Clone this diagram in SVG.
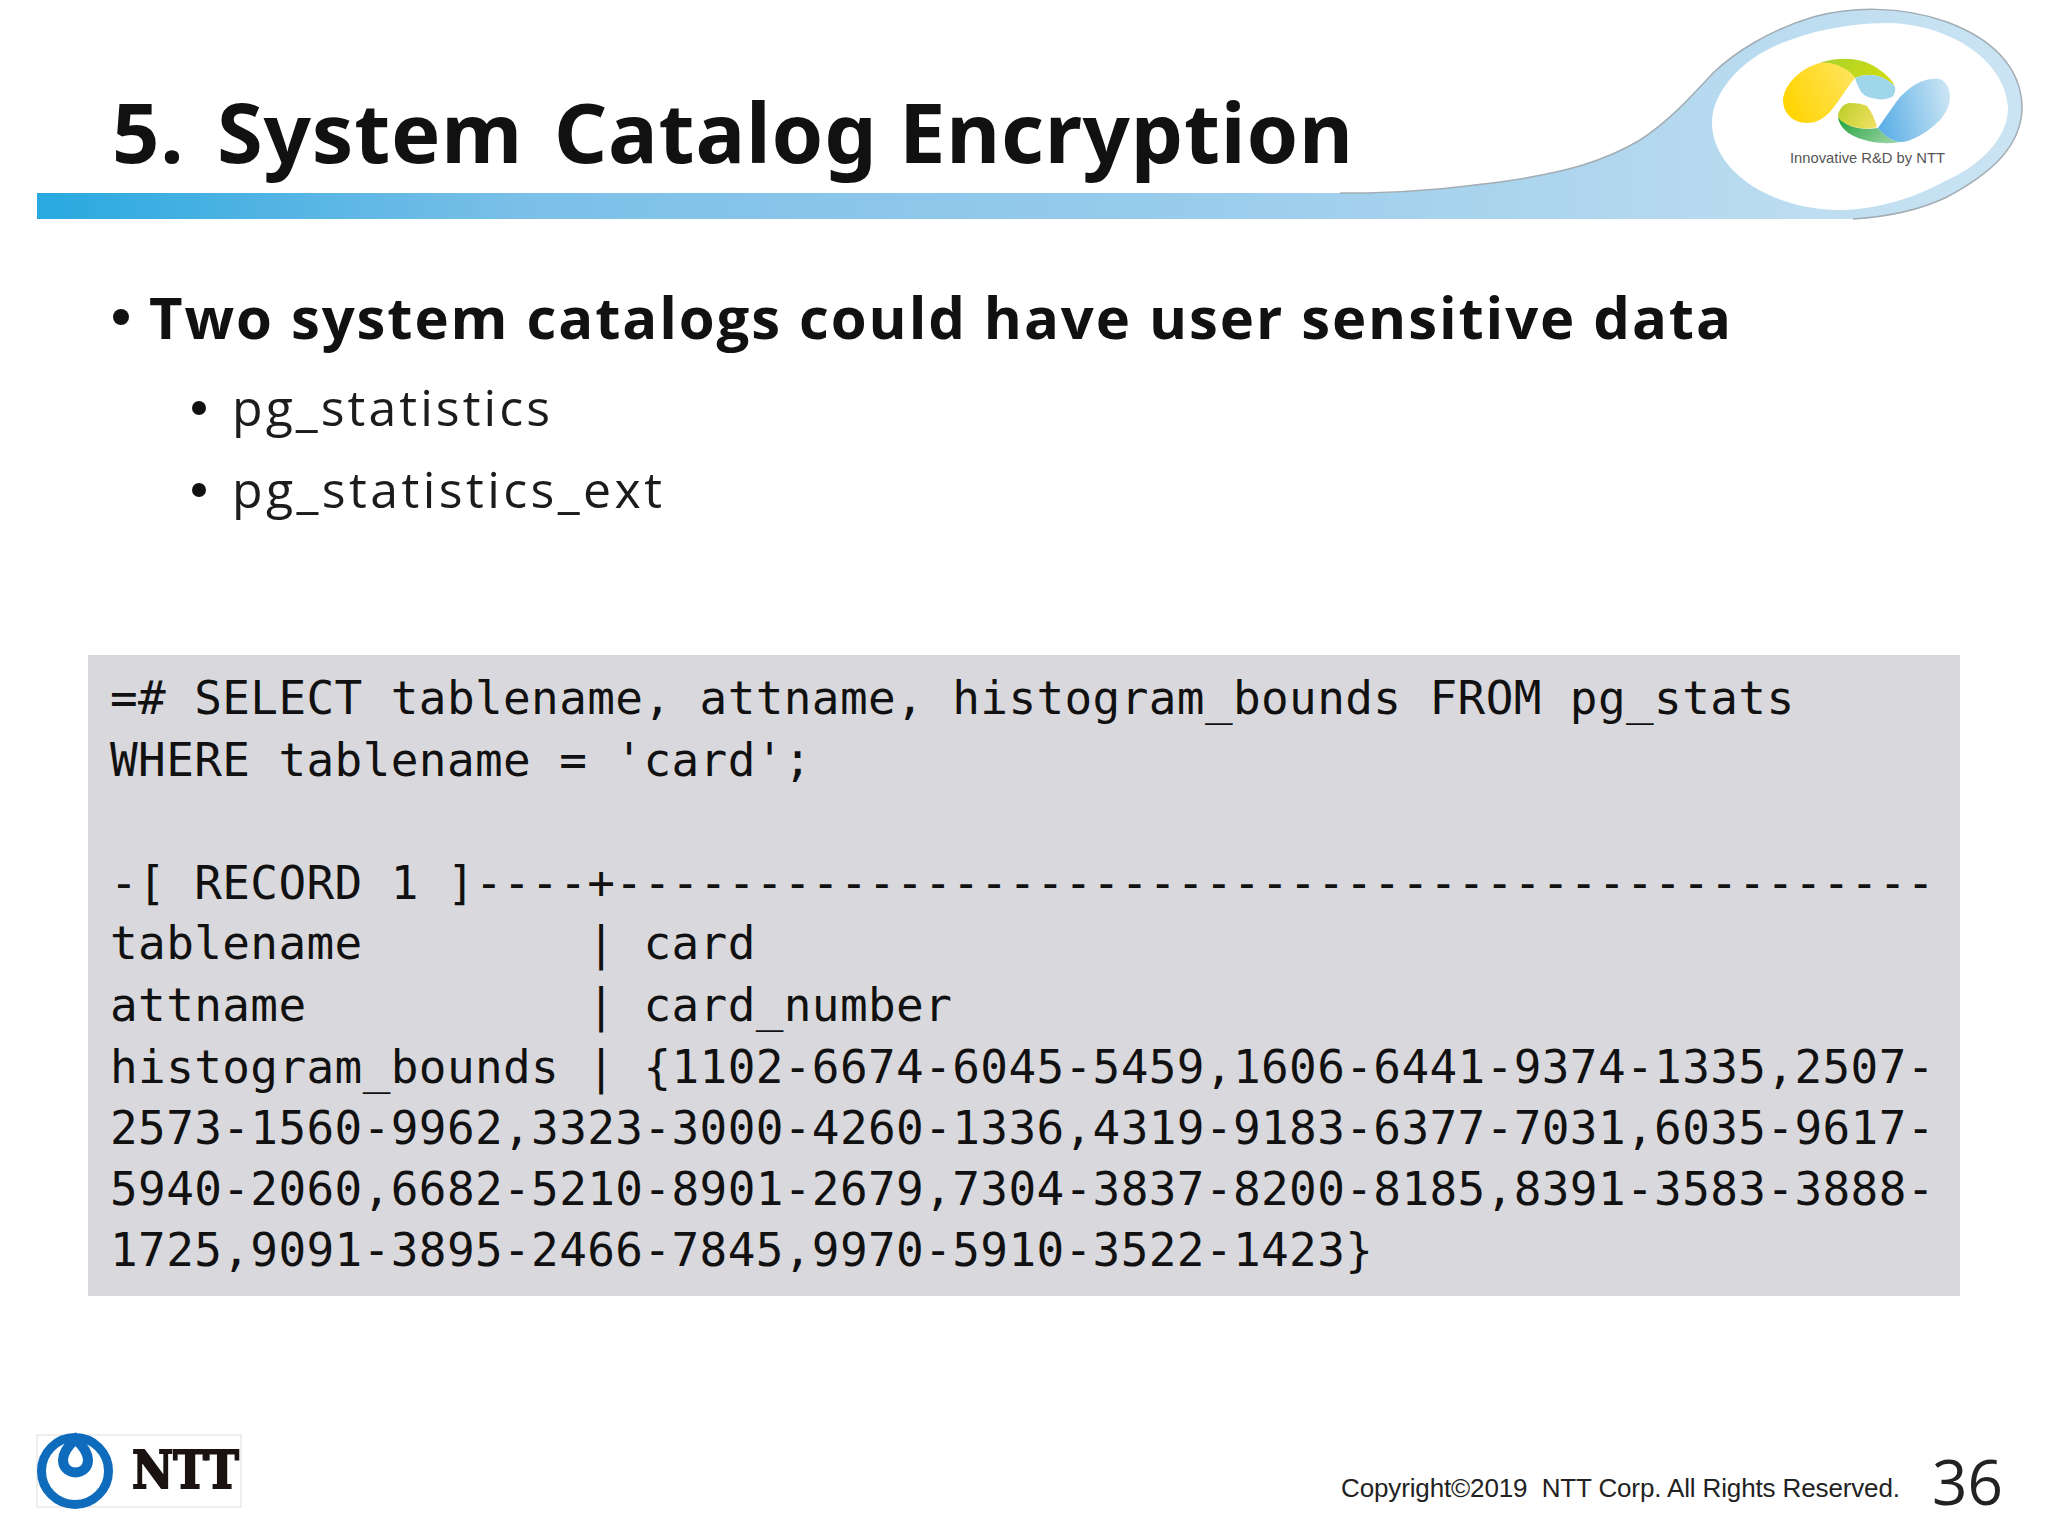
<svg xmlns="http://www.w3.org/2000/svg" width="2048" height="1536" viewBox="0 0 2048 1536">
<style>
.code{font-family:"DejaVu Sans Mono","Liberation Mono",monospace;font-size:46px;letter-spacing:.38px;fill:#111;white-space:pre}
.b2{font-family:"Open Sans","Noto Sans",sans-serif;font-size:50px;fill:#1c1c1c}
.bl{fill:#111}
</style>
<defs>
<linearGradient id="band" gradientUnits="userSpaceOnUse" x1="37" x2="2022" y1="0" y2="0"><stop offset="0" stop-color="#27a9e0"/><stop offset=".1" stop-color="#4cb2e3"/><stop offset=".25" stop-color="#7cc0e8"/><stop offset=".6" stop-color="#9bcdec"/><stop offset=".85" stop-color="#b7daef"/><stop offset="1" stop-color="#cbe4f3"/></linearGradient>
<linearGradient id="yel" x1="0" x2="1" y1=".7" y2=".3"><stop offset="0" stop-color="#ffd400"/><stop offset="1" stop-color="#ffe35a"/></linearGradient>
<linearGradient id="blu" x1="0" x2="1" y1=".6" y2=".4"><stop offset="0" stop-color="#5aaee6"/><stop offset="1" stop-color="#c9e4f4"/></linearGradient>
<linearGradient id="grn" x1="0" x2="1" y1="0" y2=".4"><stop offset="0" stop-color="#1fa23c"/><stop offset="1" stop-color="#8fcf9a"/></linearGradient>
<linearGradient id="ol" x1="0" x2="1" y1=".3" y2=".7"><stop offset="0" stop-color="#bfd02c"/><stop offset="1" stop-color="#efe060"/></linearGradient>
<linearGradient id="tg" x1="0" x2="1" y1="0" y2=".3"><stop offset="0" stop-color="#a8d22e"/><stop offset="1" stop-color="#cfdc10"/></linearGradient>
</defs>
<rect width="2048" height="1536" fill="#fff"/>
<g id="header">
<path d="M37 193H1367C1420 192 1460 187 1500 182C1535 177 1560 172 1583 165C1605 158 1622 151 1640 140C1668 122 1690 98 1713 73C1735 52 1770 30 1813 17C1850 7 1900 5 1947 22C1990 38 2020 65 2022 105C2023 145 1992 173 1947 197C1920 210 1885 217 1853 219H37Z" fill="url(#band)"/>
<path d="M1340 193H1367C1420 192 1460 187 1500 182C1535 177 1560 172 1583 165C1605 158 1622 151 1640 140C1668 122 1690 98 1713 73C1735 52 1770 30 1813 17C1850 7 1900 5 1947 22C1990 38 2020 65 2022 105C2023 145 1992 173 1947 197C1920 210 1885 217 1853 219" fill="none" stroke="#a3adb4" stroke-width="1.5"/>
<path d="M1712 123C1712 90 1745 55 1790 40C1825 27 1860 23 1890 23C1950 25 2005 60 2008 107C2009 140 1975 168 1947 180C1915 198 1875 210 1840 210C1770 210 1712 170 1712 123Z" fill="#fff"/>
<g id="logo">
<path d="M1820 63C1840 56 1862 58 1877 68C1886 74 1892 80 1895 86C1890 81 1880 75 1870 75C1864 75 1859 76 1855 78C1850 70 1835 62 1820 63Z" fill="url(#tg)"/>
<path d="M1783 100C1784 85 1800 68 1820 63C1835 61 1850 70 1855 78C1848 86 1840 100 1830 112C1822 120 1815 123 1807 123C1792 123 1783 112 1783 100Z" fill="url(#yel)"/>
<path d="M1855 78C1859 76 1864 75 1870 75C1880 75 1890 80 1895 87C1896 92 1894 95 1892 97C1887 99 1882 100 1877 99C1870 98 1865 96 1863 94C1859 90 1857 84 1855 78Z" fill="#9fd6ec"/>
<path d="M1838 117C1840 130 1852 138 1873 142C1885 144 1893 143 1900 142C1893 141 1887 137 1885 135C1882 133 1880 130 1878 128C1870 129 1855 130 1845 123Z" fill="url(#grn)"/>
<path d="M1838 115C1840 107 1845 103 1850 103C1857 103 1863 104 1867 106C1872 112 1875 120 1877 127C1870 129 1865 129 1860 128C1852 127 1848 125 1845 123C1841 121 1838 119 1838 115Z" fill="url(#ol)"/>
<path d="M1878 128C1885 118 1893 106 1900 97C1907 90 1913 85 1920 82C1927 79 1934 78 1940 79C1947 82 1950 90 1950 97C1950 105 1946 113 1940 120C1932 128 1925 133 1917 137C1911 140 1906 142 1900 142C1893 141 1887 137 1885 135C1882 133 1880 130 1878 128Z" fill="url(#blu)"/>
<text x="1790" y="163" font-family="Liberation Sans,sans-serif" font-size="14.5" textLength="155" lengthAdjust="spacingAndGlyphs" fill="#555">Innovative R&amp;D by NTT</text>
</g>
<text id="title" y="163" font-family="Noto Sans,Open Sans,sans-serif" font-weight="700" font-size="83" letter-spacing=".8" fill="#111"><tspan x="112">5.</tspan> <tspan x="217">System</tspan> <tspan x="554">Catalog</tspan> <tspan x="899">Encryption</tspan></text>
</g>
<g id="bullets">
<circle class="bl" cx="121" cy="317" r="8"/>
<text x="149" y="339" font-family="Open Sans,Noto Sans,sans-serif" font-weight="700" font-size="58" textLength="1582" fill="#111">Two system catalogs could have user sensitive data</text>
<circle class="bl" cx="199" cy="408" r="7"/>
<text class="b2" x="232" y="426" textLength="318">pg_statistics</text>
<circle class="bl" cx="199" cy="490" r="7"/>
<text class="b2" x="232" y="508" textLength="430">pg_statistics_ext</text>
</g>
<g id="code-box">
<rect x="88" y="655" width="1872" height="641" fill="#d9d8dc"/>
<text class="code" x="110" y="714">=# SELECT tablename, attname, histogram_bounds FROM pg_stats</text>
<text class="code" x="110" y="776">WHERE tablename = 'card';</text>
<text class="code" x="110" y="899">-[ RECORD 1 ]----+-----------------------------------------------</text>
<text class="code" x="110" y="959">tablename        | card</text>
<text class="code" x="110" y="1021">attname          | card_number</text>
<text class="code" x="110" y="1083">histogram_bounds | {1102-6674-6045-5459,1606-6441-9374-1335,2507-</text>
<text class="code" x="110" y="1144">2573-1560-9962,3323-3000-4260-1336,4319-9183-6377-7031,6035-9617-</text>
<text class="code" x="110" y="1205">5940-2060,6682-5210-8901-2679,7304-3837-8200-8185,8391-3583-3888-</text>
<text class="code" x="110" y="1266">1725,9091-3895-2466-7845,9970-5910-3522-1423}</text>
</g>
<g id="footer">
<rect x="37" y="1435" width="204" height="72" fill="#fff" stroke="#ddd" stroke-width="1"/>
<circle cx="75" cy="1471" r="33.5" fill="none" stroke="#0f6cbd" stroke-width="9"/>
<path d="M75.5 1439C68 1446 63 1453 63 1460C63 1467 68 1472.5 75.5 1472.5C83 1472.5 88 1467 88 1460C88 1453 83 1446 75.5 1439Z" fill="none" stroke="#0f6cbd" stroke-width="10"/>
<text x="132" y="1488" font-family="'DejaVu Serif','Liberation Serif',serif" font-weight="700" font-size="52" textLength="107" lengthAdjust="spacingAndGlyphs" stroke="#1a1311" stroke-width="2" fill="#1a1311">NTT</text>
<text x="1341" y="1497" font-family="Liberation Sans,sans-serif" font-size="26" textLength="559" style="white-space:pre" fill="#222">Copyright©2019  NTT Corp. All Rights Reserved.</text>
<text x="1932" y="1505" font-family="Open Sans,Noto Sans,sans-serif" font-size="62" fill="#222">36</text>
</g>
</svg>
